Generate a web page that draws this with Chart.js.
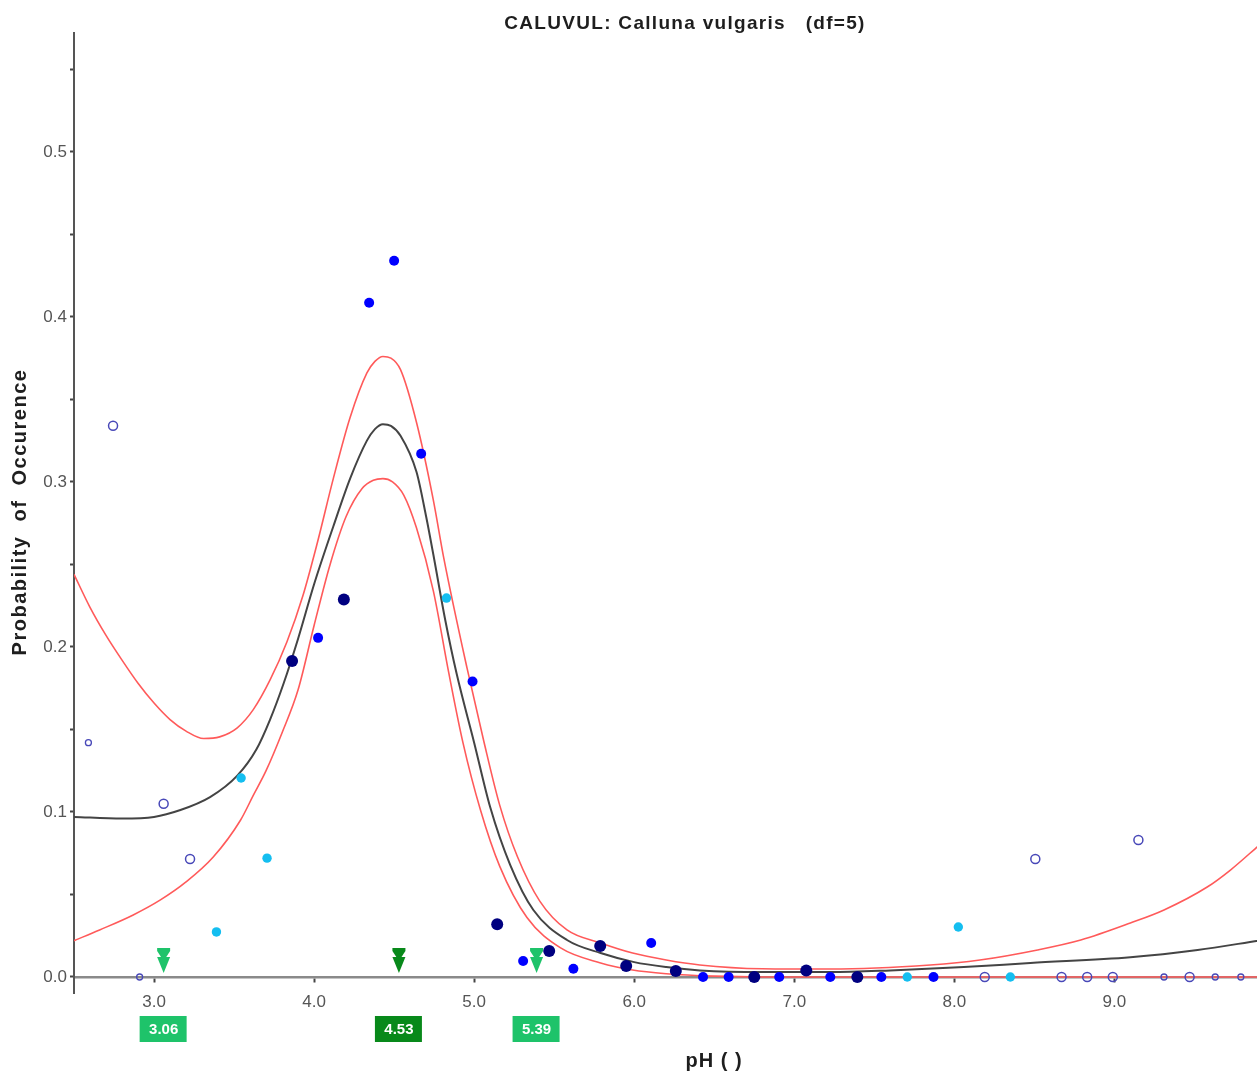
<!DOCTYPE html>
<html><head><meta charset="utf-8">
<script src="https://cdn.jsdelivr.net/npm/chart.js@4.4.1/dist/chart.umd.min.js"></script>
<style>
html,body{margin:0;padding:0;background:#fff;overflow:hidden;}
#wrap{width:1360px;height:1072px;position:relative;}
</style></head><body>
<div id="wrap"><canvas id="c" width="1360" height="1072"></canvas></div>
<script>
const titleText = 'CALUVUL: Calluna vulgaris   (df=5)';
const xTitle = 'pH ( )';
const yTitle = 'Probability  of  Occurence';

const xTickValues = [3, 4, 5, 6, 7, 8, 9];
const xTickLabels = ['3.0', '4.0', '5.0', '6.0', '7.0', '8.0', '9.0'];
const yTickValues = [0, 0.05, 0.1, 0.15, 0.2, 0.25, 0.3, 0.35, 0.4, 0.45, 0.5, 0.55];
const yTickLabels = ['0.0', '', '0.1', '', '0.2', '', '0.3', '', '0.4', '', '0.5', ''];

// fitted response curve (black)
const fitX = [2.5, 2.8, 3.0, 3.16, 3.35, 3.52, 3.64, 3.725, 3.81, 3.9, 4.0, 4.12, 4.225, 4.33, 4.38, 4.43, 4.48, 4.54, 4.64, 4.70, 4.745, 4.82, 4.89, 5.0, 5.1, 5.225, 5.37, 5.58, 5.79, 6.0, 6.2, 6.41, 6.8, 7.225, 7.6, 8.06, 8.475, 9.1, 9.52, 9.9];
const fitY = [0.097, 0.096, 0.097, 0.101, 0.109, 0.122, 0.138, 0.156, 0.178, 0.205, 0.238, 0.273, 0.302, 0.325, 0.332, 0.335, 0.334, 0.328, 0.306, 0.279, 0.256, 0.216, 0.184, 0.142, 0.103, 0.068, 0.0406, 0.0224, 0.0145, 0.009, 0.006, 0.004, 0.003, 0.003, 0.004, 0.006, 0.0085, 0.012, 0.0164, 0.022];

// upper confidence band (red)
const upperX = [2.5, 2.6, 2.7, 2.8, 2.9, 3.0, 3.1, 3.2, 3.31, 3.41, 3.52, 3.62, 3.725, 3.83, 3.93, 4.02, 4.12, 4.225, 4.33, 4.38, 4.43, 4.48, 4.54, 4.64, 4.745, 4.81, 4.956, 5.06, 5.16, 5.27, 5.41, 5.58, 5.79, 5.99, 6.2, 6.41, 6.8, 7.225, 7.85, 8.16, 8.52, 8.79, 9.1, 9.31, 9.58, 9.725, 9.9];
const upperY = [0.244, 0.224, 0.207, 0.192, 0.178, 0.166, 0.156, 0.149, 0.1445, 0.1455, 0.151, 0.162, 0.180, 0.203, 0.231, 0.263, 0.302, 0.339, 0.366, 0.373, 0.376, 0.375, 0.368, 0.336, 0.289, 0.254, 0.187, 0.143, 0.104, 0.073, 0.046, 0.0285, 0.0206, 0.0145, 0.0103, 0.0073, 0.005, 0.0048, 0.0073, 0.0103, 0.0164, 0.0224, 0.0327, 0.0406, 0.0545, 0.0648, 0.0795];

// lower confidence band (red)
const lowerX = [2.5, 2.66, 2.87, 3.04, 3.2, 3.37, 3.54, 3.62, 3.7, 3.8, 3.9, 4.0, 4.1, 4.2, 4.3, 4.37, 4.43, 4.49, 4.56, 4.64, 4.745, 4.84, 4.93, 5.04, 5.16, 5.33, 5.54, 5.79, 5.99, 6.2, 6.5, 6.8, 9.9];
const lowerY = [0.022, 0.0285, 0.0376, 0.0467, 0.0576, 0.0727, 0.095, 0.110, 0.125, 0.148, 0.174, 0.213, 0.250, 0.279, 0.296, 0.301, 0.302, 0.300, 0.292, 0.272, 0.234, 0.185, 0.142, 0.101, 0.067, 0.036, 0.0176, 0.0085, 0.0042, 0.002, 0.0005, 0, 0];

// observed points
const navyX = [3.8625, 4.186, 5.144, 5.469, 5.7875, 5.95, 6.26, 6.75, 7.075, 7.394];
const navyY = [0.1915, 0.2287, 0.032, 0.0158, 0.0188, 0.0067, 0.0036, 0, 0.004, 0];
const blueX = [4.025, 4.344, 4.5, 4.669, 4.99, 5.306, 5.62, 6.106, 6.43, 6.59, 6.906, 7.225, 7.544, 7.87];
const blueY = [0.2055, 0.4085, 0.434, 0.317, 0.179, 0.0097, 0.005, 0.0206, 0, 0, 0, 0, 0, 0];
const cyanX = [3.39, 3.544, 3.706, 4.827, 7.706, 8.025, 8.35];
const cyanY = [0.0273, 0.1206, 0.072, 0.2296, 0, 0.0303, 0];
const openX = [2.744, 3.06, 3.225, 8.506, 9.15, 8.19, 8.67, 8.83, 8.99, 9.47];
const openY = [0.334, 0.105, 0.0715, 0.0715, 0.083, 0, 0, 0, 0, 0];
const openSmallX = [2.59, 2.91, 9.31, 9.63, 9.79];
const openSmallY = [0.142, 0, 0, 0, 0];

// marked optimum / limits
const markerValues = [3.06, 4.53, 5.39];
const markerLabels = ['3.06', '4.53', '5.39'];
const markerDark = [false, true, false];

const pts = (xs, ys) => xs.map((x, i) => ({ x: x, y: ys[i] }));
const FONT = "'Liberation Sans', Arial, sans-serif";

function spaced(ctx, px) { try { ctx.letterSpacing = px; } catch (e) {} }

const decor = {
  id: 'decor',
  afterDraw(chart) {
    const ctx = chart.ctx;
    const xs = chart.scales.x, ys = chart.scales.y;
    const ca = chart.chartArea;
    const y0 = ys.getPixelForValue(0);
    ctx.save();
    ctx.fillStyle = '#1e1e1e';
    ctx.textAlign = 'center';
    ctx.textBaseline = 'middle';
    // main title
    ctx.font = 'bold 19px ' + FONT;
    spaced(ctx, '1.3px');
    ctx.fillText(titleText, chart.width / 2 + 5, 24);
    // x title
    ctx.font = 'bold 20px ' + FONT;
    spaced(ctx, '1px');
    ctx.fillText(xTitle, (ca.left + ca.right) / 2, 1061);
    ctx.restore();
    // y title
    ctx.save();
    ctx.fillStyle = '#1e1e1e';
    ctx.font = 'bold 20px ' + FONT;
    ctx.textAlign = 'center';
    ctx.textBaseline = 'middle';
    spaced(ctx, '1.5px');
    ctx.translate(20, 512);
    ctx.rotate(-Math.PI / 2);
    ctx.fillText(yTitle, 0, 0);
    ctx.restore();
    // markers
    ctx.save();
    spaced(ctx, '0px');
    ctx.textAlign = 'center';
    ctx.textBaseline = 'middle';
    markerValues.forEach((v, i) => {
      const px = xs.getPixelForValue(v);
      const col = markerDark[i] ? '#08891a' : '#1ec36a';
      ctx.fillStyle = col;
      ctx.beginPath();
      ctx.moveTo(px - 6.5, y0 - 29);
      ctx.lineTo(px + 6.5, y0 - 29);
      ctx.lineTo(px + 6.5, y0 - 26);
      ctx.lineTo(px, y0 - 16);
      ctx.lineTo(px - 6.5, y0 - 26);
      ctx.closePath();
      ctx.fill();
      ctx.beginPath();
      ctx.moveTo(px - 6.5, y0 - 20);
      ctx.lineTo(px + 6.5, y0 - 20);
      ctx.lineTo(px, y0 - 4);
      ctx.closePath();
      ctx.fill();
      ctx.fillRect(px - 24, y0 + 39, 47, 26);
      ctx.fillStyle = '#fff';
      ctx.font = 'bold 15px ' + FONT;
      ctx.fillText(markerLabels[i], px, y0 + 52.5);
    });
    ctx.restore();
  }
};

new Chart(document.getElementById('c'), {
  type: 'scatter',
  data: {
    datasets: [
      { label: 'open', data: pts(openX, openY), pointRadius: 4.5, pointBorderWidth: 1.5, pointBorderColor: '#4848b8', pointBackgroundColor: 'rgba(0,0,0,0)', order: 0 },
      { label: 'openSmall', data: pts(openSmallX, openSmallY), pointRadius: 3, pointBorderWidth: 1.3, pointBorderColor: '#4848b8', pointBackgroundColor: 'rgba(0,0,0,0)', order: 0 },
      { label: 'navy', data: pts(navyX, navyY), pointRadius: 6, pointBorderWidth: 0, pointBackgroundColor: '#000080', order: 0 },
      { label: 'blue', data: pts(blueX, blueY), pointRadius: 5, pointBorderWidth: 0, pointBackgroundColor: '#0000ff', order: 0 },
      { label: 'cyan', data: pts(cyanX, cyanY), pointRadius: 4.7, pointBorderWidth: 0, pointBackgroundColor: '#14bef0', order: 0 },
      { label: 'fit', data: pts(fitX, fitY), showLine: true, pointRadius: 0, borderColor: '#444', borderWidth: 2, cubicInterpolationMode: 'monotone', order: 1 },
      { label: 'upper', data: pts(upperX, upperY), showLine: true, pointRadius: 0, borderColor: '#ff5a5a', borderWidth: 1.6, cubicInterpolationMode: 'monotone', order: 1 },
      { label: 'lower', data: pts(lowerX, lowerY), showLine: true, pointRadius: 0, borderColor: '#ff5a5a', borderWidth: 1.6, cubicInterpolationMode: 'monotone', order: 1 }
    ]
  },
  options: {
    responsive: false,
    animation: false,
    layout: { padding: { left: 0, right: 0, top: 33, bottom: 79 } },
    plugins: {
      legend: { display: false },
      tooltip: { enabled: false },
      title: { display: false }
    },
    scales: {
      x: {
        type: 'linear', min: 2.5, max: 10.497,
        position: { y: 0 },
        border: { display: true, color: '#8a8a8a', width: 2.5 },
        grid: { display: true, drawOnChartArea: false, drawTicks: true, tickLength: 4, color: '#444', tickWidth: 2 },
        ticks: { autoSkip: false, maxRotation: 0, padding: 11, color: '#555', font: { family: FONT, size: 17 },
          callback: (v, i) => xTickLabels[i] },
        afterBuildTicks: (s) => { s.ticks = xTickValues.map(v => ({ value: v })); }
      },
      y: {
        type: 'linear', min: -0.0097, max: 0.572,
        position: 'left',
        border: { display: true, color: '#555', width: 2 },
        grid: { display: true, drawOnChartArea: false, drawTicks: true, tickLength: 4, color: '#444', tickWidth: 2 },
        ticks: { autoSkip: false, padding: 3, color: '#555', font: { family: FONT, size: 17 },
          callback: (v, i) => yTickLabels[i] },
        afterBuildTicks: (s) => { s.ticks = yTickValues.map(v => ({ value: v })); },
        afterFit: (s) => { s.width = 74; }
      }
    }
  },
  plugins: [decor]
});
</script>
</body></html>
